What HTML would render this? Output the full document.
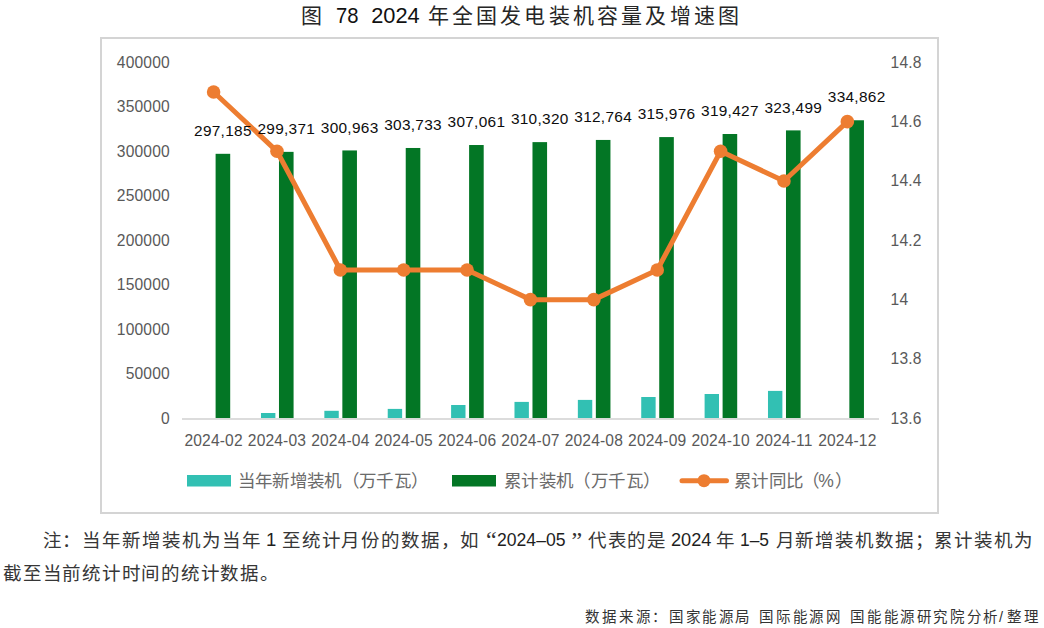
<!DOCTYPE html>
<html lang="zh-CN"><head><meta charset="utf-8"><style>
html,body{margin:0;padding:0;background:#fff;width:1044px;height:628px;overflow:hidden}
svg{position:absolute;left:0;top:0}
text{font-family:"Liberation Sans",sans-serif}
.dl{font-size:15.4px;fill:#0d0d0d;letter-spacing:0.3px}
.ax{font-size:15.6px;fill:#595959;letter-spacing:0.15px}
.lg{font-size:17.5px;fill:#6a6a6a}
.ti{font-size:21px;fill:#262626}
.tn{font-size:22px;fill:#111}
.nt{font-size:18.5px;fill:#363636}
.nn{font-size:18.5px;fill:#1e1e1e}
.qt{font-size:24px;fill:#333;font-family:"Liberation Serif",serif}
.sr{font-size:14.5px;fill:#333}
</style></head><body>
<svg width="1044" height="628" viewBox="0 0 1044 628">
<rect x="101" y="38" width="837" height="475" fill="#fff" stroke="#d4d4d4" stroke-width="2"/>
<rect x="215.60" y="153.81" width="14.6" height="264.39" fill="#037625"/>
<rect x="278.98" y="151.86" width="14.6" height="266.34" fill="#037625"/>
<rect x="260.98" y="413.00" width="14.4" height="5.20" fill="#32C0B3"/>
<rect x="342.35" y="150.44" width="14.6" height="267.76" fill="#037625"/>
<rect x="324.35" y="410.80" width="14.4" height="7.40" fill="#32C0B3"/>
<rect x="405.73" y="147.98" width="14.6" height="270.22" fill="#037625"/>
<rect x="387.73" y="408.90" width="14.4" height="9.30" fill="#32C0B3"/>
<rect x="469.10" y="145.02" width="14.6" height="273.18" fill="#037625"/>
<rect x="451.10" y="405.00" width="14.4" height="13.20" fill="#32C0B3"/>
<rect x="532.48" y="142.12" width="14.6" height="276.08" fill="#037625"/>
<rect x="514.48" y="401.90" width="14.4" height="16.30" fill="#32C0B3"/>
<rect x="595.85" y="139.94" width="14.6" height="278.26" fill="#037625"/>
<rect x="577.85" y="399.90" width="14.4" height="18.30" fill="#32C0B3"/>
<rect x="659.23" y="137.08" width="14.6" height="281.12" fill="#037625"/>
<rect x="641.23" y="397.00" width="14.4" height="21.20" fill="#32C0B3"/>
<rect x="722.60" y="134.01" width="14.6" height="284.19" fill="#037625"/>
<rect x="704.60" y="394.00" width="14.4" height="24.20" fill="#32C0B3"/>
<rect x="785.98" y="130.39" width="14.6" height="287.81" fill="#037625"/>
<rect x="767.98" y="390.90" width="14.4" height="27.30" fill="#32C0B3"/>
<rect x="849.35" y="120.27" width="14.6" height="297.93" fill="#037625"/>
<rect x="182" y="418.1" width="697" height="1.8" fill="#d9d9d9"/>
<polyline points="213.60,91.97 276.98,151.30 340.35,269.97 403.73,269.97 467.10,269.97 530.48,299.63 593.85,299.63 657.23,269.97 720.60,151.30 783.98,180.97 847.35,121.63" fill="none" stroke="#ED7D31" stroke-width="5" stroke-linejoin="round" stroke-linecap="round"/>
<circle cx="213.60" cy="91.97" r="6.8" fill="#ED7D31"/>
<circle cx="276.98" cy="151.30" r="6.8" fill="#ED7D31"/>
<circle cx="340.35" cy="269.97" r="6.8" fill="#ED7D31"/>
<circle cx="403.73" cy="269.97" r="6.8" fill="#ED7D31"/>
<circle cx="467.10" cy="269.97" r="6.8" fill="#ED7D31"/>
<circle cx="530.48" cy="299.63" r="6.8" fill="#ED7D31"/>
<circle cx="593.85" cy="299.63" r="6.8" fill="#ED7D31"/>
<circle cx="657.23" cy="269.97" r="6.8" fill="#ED7D31"/>
<circle cx="720.60" cy="151.30" r="6.8" fill="#ED7D31"/>
<circle cx="783.98" cy="180.97" r="6.8" fill="#ED7D31"/>
<circle cx="847.35" cy="121.63" r="6.8" fill="#ED7D31"/>
<text x="222.90" y="136.01" class="dl" text-anchor="middle">297,185</text>
<text x="286.28" y="134.06" class="dl" text-anchor="middle">299,371</text>
<text x="349.65" y="132.64" class="dl" text-anchor="middle">300,963</text>
<text x="413.03" y="130.18" class="dl" text-anchor="middle">303,733</text>
<text x="476.40" y="127.22" class="dl" text-anchor="middle">307,061</text>
<text x="539.77" y="124.32" class="dl" text-anchor="middle">310,320</text>
<text x="603.15" y="122.14" class="dl" text-anchor="middle">312,764</text>
<text x="666.52" y="119.28" class="dl" text-anchor="middle">315,976</text>
<text x="729.90" y="116.21" class="dl" text-anchor="middle">319,427</text>
<text x="793.27" y="112.59" class="dl" text-anchor="middle">323,499</text>
<text x="856.65" y="102.47" class="dl" text-anchor="middle">334,862</text>
<text x="169.8" y="423.80" class="ax" text-anchor="end">0</text>
<text x="169.8" y="379.30" class="ax" text-anchor="end">50000</text>
<text x="169.8" y="334.80" class="ax" text-anchor="end">100000</text>
<text x="169.8" y="290.30" class="ax" text-anchor="end">150000</text>
<text x="169.8" y="245.80" class="ax" text-anchor="end">200000</text>
<text x="169.8" y="201.30" class="ax" text-anchor="end">250000</text>
<text x="169.8" y="156.80" class="ax" text-anchor="end">300000</text>
<text x="169.8" y="112.30" class="ax" text-anchor="end">350000</text>
<text x="169.8" y="67.80" class="ax" text-anchor="end">400000</text>
<text x="890.6" y="423.80" class="ax">13.6</text>
<text x="890.6" y="364.47" class="ax">13.8</text>
<text x="890.6" y="305.13" class="ax">14</text>
<text x="890.6" y="245.80" class="ax">14.2</text>
<text x="890.6" y="186.47" class="ax">14.4</text>
<text x="890.6" y="127.13" class="ax">14.6</text>
<text x="890.6" y="67.80" class="ax">14.8</text>
<text x="213.60" y="445.8" class="ax" text-anchor="middle">2024-02</text>
<text x="276.98" y="445.8" class="ax" text-anchor="middle">2024-03</text>
<text x="340.35" y="445.8" class="ax" text-anchor="middle">2024-04</text>
<text x="403.73" y="445.8" class="ax" text-anchor="middle">2024-05</text>
<text x="467.10" y="445.8" class="ax" text-anchor="middle">2024-06</text>
<text x="530.48" y="445.8" class="ax" text-anchor="middle">2024-07</text>
<text x="593.85" y="445.8" class="ax" text-anchor="middle">2024-08</text>
<text x="657.23" y="445.8" class="ax" text-anchor="middle">2024-09</text>
<text x="720.60" y="445.8" class="ax" text-anchor="middle">2024-10</text>
<text x="783.98" y="445.8" class="ax" text-anchor="middle">2024-11</text>
<text x="847.35" y="445.8" class="ax" text-anchor="middle">2024-12</text>
<rect x="187" y="475" width="44" height="11.5" fill="#32C0B3"/>
<rect x="452" y="475" width="44" height="11.5" fill="#037625"/>
<line x1="682" y1="480.7" x2="726.5" y2="480.7" stroke="#ED7D31" stroke-width="5" stroke-linecap="round"/>
<circle cx="704" cy="480.7" r="6.5" fill="#ED7D31"/>
<text x="246.00 263.36 280.72 298.08 315.44 332.80 350.16 367.52 384.88 402.24 419.60" y="487" class="lg" text-anchor="middle">当年新增装机（万千瓦）</text>
<text x="512.50 529.86 547.22 564.58 581.94 599.30 616.66 634.02 651.38" y="487" class="lg" text-anchor="middle">累计装机（万千瓦）</text>
<text x="742.50 759.86 777.22 794.58 810.00 826.00 843.00" y="487" class="lg" text-anchor="middle">累计同比（%）</text>
<text x="311.00" y="22.8" class="ti" text-anchor="middle">图</text>
<text x="336" y="23.2" class="tn" textLength="22.5" lengthAdjust="spacingAndGlyphs">78</text>
<text x="371.2" y="23.2" class="tn" textLength="48.5" lengthAdjust="spacingAndGlyphs">2024</text>
<text x="438.00 462.20 486.40 510.60 534.80 559.00 583.20 607.40 631.60 655.80 680.00 704.20 728.40" y="22.8" class="ti" text-anchor="middle">年全国发电装机容量及增速图</text>
<text x="52.00 71.90 91.80 111.70 131.60 151.50 171.40 191.30 211.20 231.10 251.00" y="547.1" class="nt" text-anchor="middle">注：当年新增装机为当年</text>
<text x="266" y="546" class="nn">1</text>
<text x="291.30 311.15 331.00 350.85 370.70 390.55 410.40 430.25 450.10 469.95" y="547.1" class="nt" text-anchor="middle">至统计月份的数据，如</text>
<text x="486" y="548" class="qt">“</text>
<text x="497" y="546" class="nn" textLength="68.5" lengthAdjust="spacingAndGlyphs">2024–05</text>
<text x="571.5" y="548" class="qt">”</text>
<text x="597.40 617.00 636.60 656.20" y="547.1" class="nt" text-anchor="middle">代表的是</text>
<text x="671" y="546" class="nn" textLength="40.5" lengthAdjust="spacingAndGlyphs">2024</text>
<text x="725.50" y="547.1" class="nt" text-anchor="middle">年</text>
<text x="740" y="546" class="nn" textLength="29" lengthAdjust="spacingAndGlyphs">1–5</text>
<text x="785.00 804.95 824.90 844.85 864.80 884.75 904.70 924.65 943.00 963.00 983.00 1003.00 1023.00" y="547.1" class="nt" text-anchor="middle">月新增装机数据；累计装机为</text>
<text x="12.50 32.25 52.00 71.75 91.50 111.25 131.00 150.75 170.50 190.25 210.00 229.75 249.50 269.25" y="579.8" class="nt" text-anchor="middle">截至当前统计时间的统计数据。</text>
<text x="592.00 609.00 625.70 642.50 659.30 676.00 692.50 709.30 726.00 742.30 766.20 783.00 799.50 816.20 832.50 857.40 874.00 890.60 907.20 923.80 940.40 957.00 973.60 990.20 1001.00 1014.00 1030.50" y="621.5" class="sr" text-anchor="middle">数据来源：国家能源局国际能源网国能能源研究院分析/整理</text>
</svg>
</body></html>
